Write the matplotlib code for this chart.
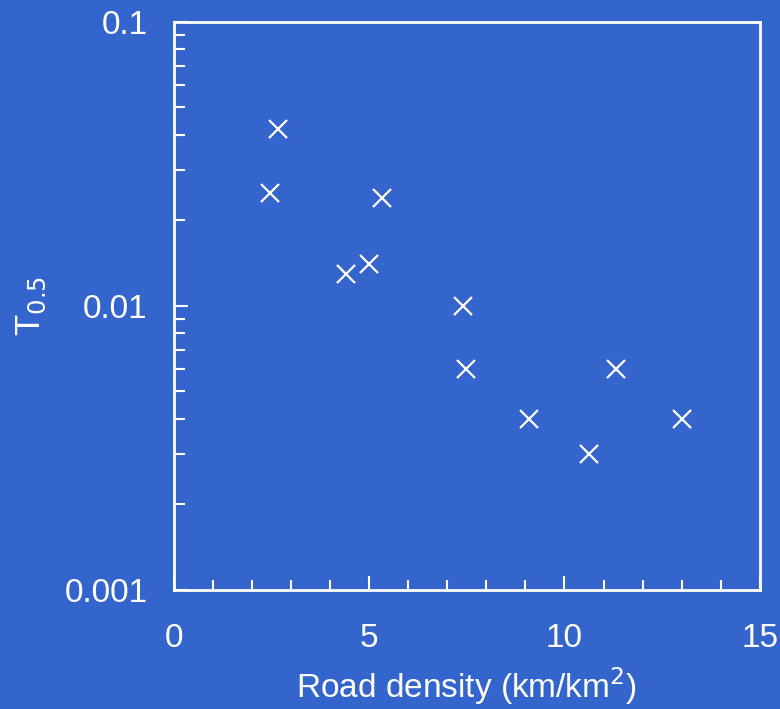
import numpy as np
import matplotlib
matplotlib.use("Agg")
import matplotlib.pyplot as plt
from matplotlib.ticker import FixedLocator, FixedFormatter, LogLocator, NullFormatter

# road density (km/km2) vs T0.5
road_density = [2.46, 2.67, 5.33, 4.41, 5.0, 7.41, 7.49, 9.1, 10.64, 11.33, 13.0]
t05 = [0.025, 0.042, 0.024, 0.013, 0.014, 0.010, 0.006, 0.004, 0.003, 0.006, 0.004]

bg = '#3465cc'
fg = 'white'
plt.rcParams['font.family'] = ['Liberation Sans', 'DejaVu Sans']

fig = plt.figure(figsize=(7.8, 7.09), dpi=100, facecolor=bg)
ax = fig.add_axes([0.223, 0.168, 0.751, 0.801], facecolor=bg)

ax.plot(road_density, t05, linestyle='none', marker='x', color=fg,
        markersize=13, markeredgewidth=1.6)

ax.set_yscale('log')
ax.set_xlim(0, 15)
ax.set_ylim(0.001, 0.1)

ax.xaxis.set_major_locator(FixedLocator([0, 5, 10, 15]))
ax.xaxis.set_minor_locator(FixedLocator(np.arange(0, 16, 1)))
ax.yaxis.set_major_locator(FixedLocator([0.001, 0.01, 0.1]))
ax.yaxis.set_major_formatter(FixedFormatter(['0.001', '0.01', '0.1']))
ax.yaxis.set_minor_locator(LogLocator(base=10, subs=np.arange(2, 10)))
ax.yaxis.set_minor_formatter(NullFormatter())

for s in ax.spines.values():
    s.set_color(fg)
    s.set_linewidth(2)

ax.tick_params(which='both', direction='in', colors=fg, width=1.5,
               top=False, right=False, labelsize=24)
ax.tick_params(axis='x', which='major', length=10, pad=24)
ax.tick_params(axis='x', which='minor', length=7)
ax.tick_params(axis='y', which='major', length=10, pad=19)
ax.tick_params(axis='y', which='minor', length=8)

ax.set_xlabel('Road density (km/km$^2$)', color=fg, fontsize=24, labelpad=8)
ax.set_ylabel('T$_{0.5}$', color=fg, fontsize=25, labelpad=12)

fig.savefig('out.png', dpi=100, facecolor=bg)
